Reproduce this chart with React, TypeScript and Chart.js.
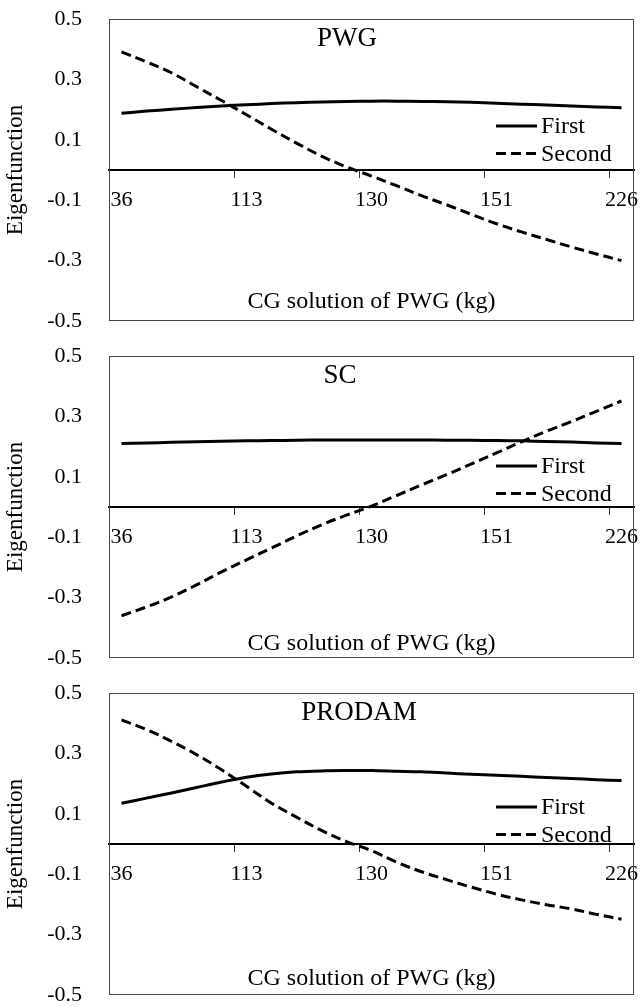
import React, { useEffect, useRef } from 'react';
import { Chart, registerables } from 'chart.js';

Chart.register(...registerables);

// ---- data ----
const xCategories = [
  '36', '', '', '', '', '113', '', '', '', '', '130', '', '', '', '', '151', '', '', '', '', '226',
];
const yTickValues = [-0.5, -0.3, -0.1, 0.1, 0.3, 0.5];
const seriesNames = ['First', 'Second'];
const panelTitles = ['PWG', 'SC', 'PRODAM'];
const xAxisTitle = 'CG solution of PWG (kg)';
const yAxisTitle = 'Eigenfunction';

const pwgFirst = [0.188, 0.195, 0.201, 0.207, 0.212, 0.216, 0.220, 0.223, 0.225, 0.227, 0.228, 0.228, 0.227, 0.226, 0.224, 0.221, 0.218, 0.215, 0.212, 0.209, 0.206];
const pwgSecond = [0.391, 0.358, 0.322, 0.276, 0.230, 0.183, 0.135, 0.089, 0.046, 0.010, -0.020, -0.052, -0.085, -0.115, -0.147, -0.178, -0.205, -0.230, -0.255, -0.278, -0.300];

const scFirst = [0.210, 0.212, 0.214, 0.216, 0.218, 0.219, 0.220, 0.221, 0.222, 0.222, 0.222, 0.222, 0.222, 0.221, 0.221, 0.220, 0.219, 0.217, 0.215, 0.212, 0.210];
const scSecond = [-0.360, -0.331, -0.298, -0.258, -0.215, -0.175, -0.136, -0.096, -0.059, -0.027, 0.003, 0.038, 0.073, 0.107, 0.143, 0.179, 0.216, 0.251, 0.283, 0.317, 0.351];

const prodamFirst = [0.135, 0.152, 0.169, 0.187, 0.205, 0.221, 0.232, 0.239, 0.242, 0.243, 0.243, 0.241, 0.239, 0.235, 0.231, 0.228, 0.224, 0.220, 0.217, 0.213, 0.210];
const prodamSecond = [0.411, 0.379, 0.340, 0.296, 0.246, 0.191, 0.135, 0.089, 0.045, 0.008, -0.022, -0.060, -0.092, -0.118, -0.143, -0.166, -0.185, -0.201, -0.215, -0.233, -0.249];

const panelSeries = [
  [pwgFirst, pwgSecond],
  [scFirst, scSecond],
  [prodamFirst, prodamSecond],
];

// ---- layout / style ----
const FONT = "'Liberation Serif', 'Times New Roman', serif";
const CANVAS_W = 660;
const CANVAS_H = 337;
const panelLayout = [
  { top: 0, titleX: 347, legendY: 107, xTitleBase: 13 },
  { top: 337, titleX: 340, legendY: 110, xTitleBase: 8 },
  { top: 674, titleX: 359, legendY: 114, xTitleBase: 10 },
];
const dashes = [[], [10, 5]];

const decorPlugin = {
  id: 'decor',
  afterDraw(chart: any, _args: any, opts: any) {
    const { ctx, chartArea: a } = chart;
    ctx.save();
    // plot box
    ctx.strokeStyle = '#444';
    ctx.lineWidth = 1;
    const l = Math.round(a.left) + 0.5;
    const t = Math.round(a.top) + 0.5;
    const r = Math.round(a.right) - 0.5;
    const b = Math.round(a.bottom) - 0.5;
    ctx.strokeRect(l, t, r - l, b - t);

    ctx.fillStyle = '#000';
    // panel title
    ctx.font = `27px ${FONT}`;
    ctx.textAlign = 'center';
    ctx.textBaseline = 'alphabetic';
    ctx.fillText(opts.title, opts.titleX, a.top + 27);

    // x axis title (inside plot)
    ctx.font = `24px ${FONT}`;
    ctx.fillText(opts.xTitle, (a.left + a.right) / 2, a.bottom - opts.xTitleBase);

    // legend
    ctx.textAlign = 'left';
    ctx.textBaseline = 'middle';
    chart.data.datasets.forEach((ds: any, i: number) => {
      const y = a.top + opts.legendY + i * 27.5;
      ctx.strokeStyle = ds.borderColor;
      ctx.lineWidth = ds.borderWidth;
      ctx.setLineDash(ds.borderDash || []);
      ctx.beginPath();
      ctx.moveTo(496, y);
      ctx.lineTo(537, y);
      ctx.stroke();
      ctx.setLineDash([]);
      ctx.fillStyle = '#000';
      ctx.fillText(ds.label, 541, y + 1);
    });
    ctx.restore();
  },
};

function Panel({ index }: { index: number }) {
  const ref = useRef<HTMLCanvasElement | null>(null);
  const lay = panelLayout[index];

  useEffect(() => {
    if (!ref.current) return;
    const chart = new Chart(ref.current, {
      type: 'line',
      data: {
        labels: xCategories,
        datasets: panelSeries[index].map((values, i) => ({
          label: seriesNames[i],
          data: values,
          borderColor: '#000',
          backgroundColor: '#000',
          borderWidth: 3,
          borderDash: dashes[i],
          pointRadius: 0,
          tension: 0.35,
          fill: false,
        })),
      },
      options: {
        animation: false,
        responsive: false,
        devicePixelRatio: 1,
        layout: { padding: { top: 19, bottom: 16, left: 0, right: 26 } },
        plugins: {
          legend: { display: false },
          tooltip: { enabled: false },
          title: { display: false },
          decor: {
            title: panelTitles[index],
            titleX: lay.titleX,
            legendY: lay.legendY,
            xTitleBase: lay.xTitleBase,
            xTitle: xAxisTitle,
          },
        } as any,
        scales: {
          x: {
            type: 'category',
            position: { y: 0 } as any,
            offset: true,
            afterFit: (scale: any) => {
              scale.height = 0;
            },
            grid: {
              offset: true,
              display: true,
              drawOnChartArea: false,
              drawTicks: true,
              tickLength: 7,
              lineWidth: 1,
              color: 'rgba(0,0,0,0)',
              tickColor: (c: any) => (c.index !== undefined && c.index % 5 === 0 ? '#333' : 'rgba(0,0,0,0)'),
            },
            border: { display: true, color: '#000', width: 2 },
            ticks: {
              autoSkip: false,
              maxRotation: 0,
              minRotation: 0,
              padding: 10,
              color: '#000',
              font: { family: FONT, size: 22 },
            },
          },
          y: {
            type: 'linear',
            position: 'left',
            min: -0.5,
            max: 0.5,
            afterBuildTicks: (scale: any) => {
              scale.ticks = yTickValues.map((v) => ({ value: v }));
            },
            afterFit: (scale: any) => {
              scale.width = 109;
              scale.paddingTop = 0;
              scale.paddingBottom = 0;
            },
            grid: { display: false, drawTicks: false },
            border: { display: false },
            ticks: {
              padding: 27,
              color: '#000',
              font: { family: FONT, size: 22 },
              callback: (v: any) => Number(Number(v).toFixed(1)).toString(),
            },
            title: {
              display: true,
              text: yAxisTitle,
              color: '#000',
              font: { family: FONT, size: 23 },
              padding: { top: 2, bottom: 0 },
            },
          },
        },
      },
      plugins: [decorPlugin as any],
    } as any);
    return () => chart.destroy();
  }, [index]);

  return (
    <div style={{ position: 'absolute', left: 0, top: lay.top, width: CANVAS_W, height: CANVAS_H }}>
      <canvas ref={ref} width={CANVAS_W} height={CANVAS_H} style={{ display: 'block', width: CANVAS_W, height: CANVAS_H }} />
    </div>
  );
}

export default function App() {
  return (
    <div
      style={{
        position: 'absolute',
        left: 0,
        top: 0,
        width: 641,
        height: 1007,
        overflow: 'hidden',
        background: '#fff',
      }}
    >
      {panelTitles.map((_, i) => (
        <Panel key={i} index={i} />
      ))}
    </div>
  );
}
